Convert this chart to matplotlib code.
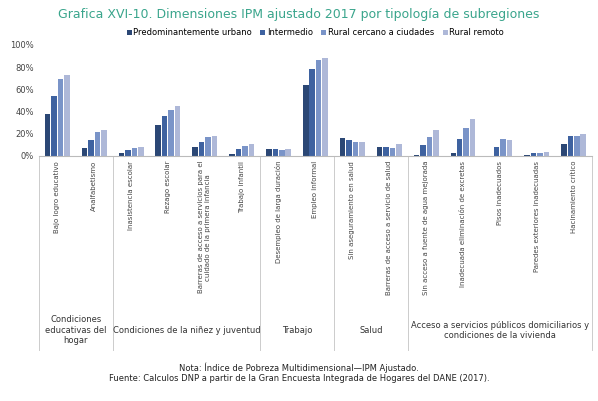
import matplotlib.pyplot as plt
import numpy as np

categories = ["Bajo logro educativo", "Analfabetismo", "Inasistencia escolar", "Rezago escolar",
              "Barreras de acceso a servicios para el\ncuidado de la primera infancia", "Trabajo infantil",
              "Desempleo de larga duración", "Empleo informal", "Sin aseguramiento en salud",
              "Barreras de acceso a servicio de salud", "Sin acceso a fuente de agua mejorada",
              "Inadecuada eliminación de excretas", "Pisos inadecuados", "Paredes exteriores inadecuadas",
              "Hacinamiento crítico"]
series = ["Predominantemente urbano", "Intermedio", "Rural cercano a ciudades", "Rural remoto"]
urbano = [38, 7, 3, 28, 8, 2, 6, 64, 16, 8, 1, 3, 0.3, 0.5, 11]
intermedio = [54, 14, 5, 36, 13, 6, 6, 78, 14, 8, 10, 15, 8, 3, 18]
cercano = [69, 22, 7, 41, 17, 9, 5, 86, 13, 7, 17, 25, 15, 3, 18]
remoto = [73, 23, 8, 45, 18, 11, 6, 88, 13, 11, 23, 33, 14, 4, 20]
groups = ["Condiciones\neducativas del\nhogar", "Condiciones de la niñez y juventud", "Trabajo", "Salud",
          "Acceso a servicios públicos domiciliarios y\ncondiciones de la vivienda"]
group_bounds = [(0, 2), (2, 6), (6, 8), (8, 10), (10, 15)]
colors = ["#2b4775", "#3e62a0", "#7a94c8", "#aeb8d8"]

fig = plt.figure(figsize=(5.98, 4.01), dpi=100)
ax = fig.add_axes([0.065, 0.611, 0.925, 0.277])
x = np.arange(len(categories))
w = 0.15
for i, (vals, c) in enumerate(zip([urbano, intermedio, cercano, remoto], colors)):
    ax.bar(x + (i - 1.5) * (w + 0.025), vals, w, color=c, label=series[i])
ax.set_xlim(-0.5, len(categories) - 0.5)
ax.set_ylim(0, 100)
ax.set_yticks(range(0, 101, 20))
ax.set_yticklabels([f"{v}%" for v in range(0, 101, 20)], fontsize=6, color="#444")
ax.set_xticks(x)
ax.set_xticklabels(categories, rotation=90, fontsize=5, color="#444", va="top", ha="center")
ax.tick_params(axis="both", length=0)
for s in ["top", "right", "left"]:
    ax.spines[s].set_visible(False)
ax.spines["bottom"].set_color("#bbb")
trans = ax.get_xaxis_transform()
for a, b in group_bounds:
    ax.plot([a - 0.5, a - 0.5], [0, -1.75], color="#ccc", lw=0.7, transform=trans, clip_on=False)
    ax.text((a + b - 1) / 2, -1.57, groups[group_bounds.index((a, b))], transform=trans,
            ha="center", va="center", fontsize=6, color="#333")
ax.plot([14.5, 14.5], [0, -1.75], color="#ccc", lw=0.7, transform=trans, clip_on=False)
ax.legend(loc="lower center", bbox_to_anchor=(0.5, 1.0), ncol=4, fontsize=6, frameon=False,
          handlelength=0.6, handleheight=0.6, columnspacing=1.0, handletextpad=0.2)
fig.text(0.5, 0.965, "Grafica XVI-10. Dimensiones IPM ajustado 2017 por tipología de subregiones",
         ha="center", va="center", fontsize=9, color="#3aa58c")
fig.text(0.5, 0.07, "Nota: Índice de Pobreza Multidimensional—IPM Ajustado.\nFuente: Calculos DNP a partir de la Gran Encuesta Integrada de Hogares del DANE (2017).",
         ha="center", va="center", fontsize=6, color="#222")
fig.savefig("out.png", dpi=100)
